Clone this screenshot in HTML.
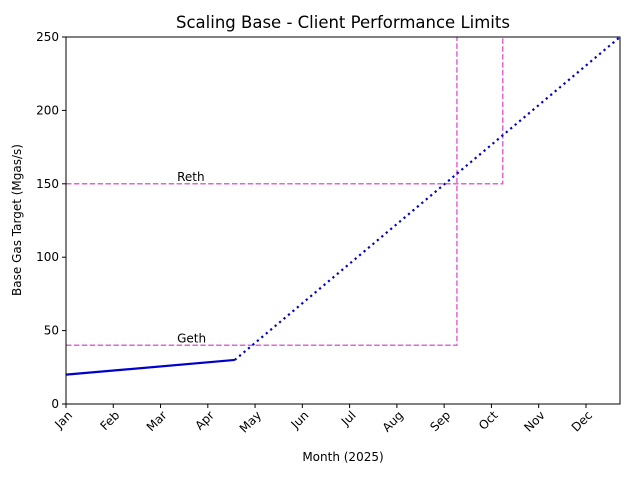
<!DOCTYPE html>
<html><head><meta charset="utf-8"><style>
body{margin:0;background:#fff;}
svg text{font-family:"DejaVu Sans","Liberation Sans",sans-serif;fill:#000;}
</style></head><body>
<svg id="chart" width="634" height="475" xmlns="http://www.w3.org/2000/svg">
<text x="343" y="28" font-size="16.5" text-anchor="middle">Scaling Base - Client Performance Limits</text>
<g id="grid"></g>
<g id="marks"></g>
<rect x="66" y="37" width="554" height="367" fill="none" stroke="#000" stroke-width="1"/>
<g id="axes"></g>
<text x="343" y="461" font-size="12" text-anchor="middle">Month (2025)</text>
<text transform="translate(21,220) rotate(-90)" font-size="12" text-anchor="middle">Base Gas Target (Mgas/s)</text>
</svg>
<script>
const months=["Jan","Feb","Mar","Apr","May","Jun","Jul","Aug","Sep","Oct","Nov","Dec"];
const yTicks=[0,50,100,150,200,250];
const actualX=[0,3.57];
const actualY=[20,30];
const projX=[3.57,11.72];
const projY=[30,250];
const limitNames=["Geth","Reth"];
const limitValues=[40,150];
const limitEndX=[8.27,9.24];
const labelX=[2.35,2.35];
const xMax=11.72,yMax=250;
const L=66,R=620,T=37,B=404;
const sx=v=>L+v/xMax*(R-L);
const sy=v=>B-v/yMax*(B-T);
const NS="http://www.w3.org/2000/svg";
function mk(parent,tag,attrs){const e=document.createElementNS(NS,tag);for(const k in attrs)e.setAttribute(k,attrs[k]);document.getElementById(parent).appendChild(e);return e;}
months.forEach((m,i)=>{
 const x=sx(i);
 const t=mk("axes","line",{x1:x,x2:x,y1:B,y2:B+4,stroke:"#000"});
 
 
 const l=mk("axes","text",{x:0,y:0,"font-size":12,"text-anchor":"end",transform:`translate(${x+7},${B+12}) rotate(-45)`});
 l.textContent=m;
 
 
});
yTicks.forEach(v=>{
 const y=sy(v);
 const t=mk("axes","line",{x1:L-4,x2:L,y1:y,y2:y,stroke:"#000"});
 
 
 const l=mk("axes","text",{x:L-7,y:y+4,"font-size":12,"text-anchor":"end"});
 l.textContent=v;
 
 
});
limitValues.forEach((v,i)=>{
 const p=mk("marks","polyline",{points:`${sx(0)},${sy(v)} ${sx(limitEndX[i])},${sy(v)} ${sx(limitEndX[i])},${sy(yMax)}`,fill:"none",stroke:"#e066d6","stroke-width":1.5,"stroke-dasharray":"5.5,2.4"});
 
 
 const t=mk("marks","text",{x:sx(labelX[i]),y:sy(v)-3,"font-size":12,"text-anchor":"start"});
 t.textContent=limitNames[i];
 
 
});
const a=mk("marks","polyline",{points:actualX.map((x,i)=>sx(x)+","+sy(actualY[i])).join(" "),fill:"none",stroke:"#0000cc","stroke-width":2.2});


const p=mk("marks","polyline",{points:projX.map((x,i)=>sx(x)+","+sy(projY[i])).join(" "),fill:"none",stroke:"#0000cc","stroke-width":2.2,"stroke-dasharray":"2.2,3.6"});


</script>
</body></html>
